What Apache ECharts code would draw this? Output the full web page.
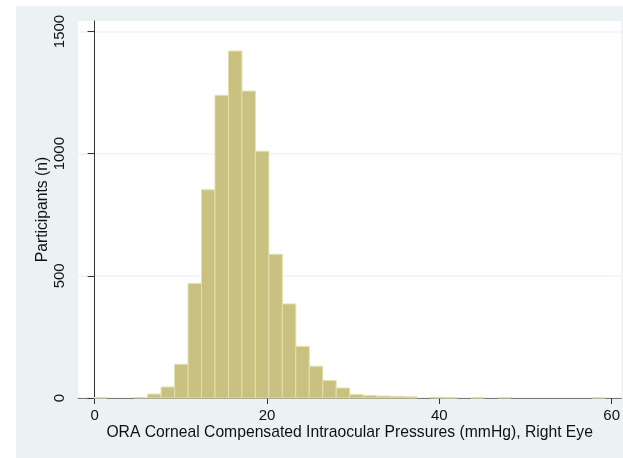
<!DOCTYPE html>
<html>
<head>
<meta charset="utf-8">
<script src="https://cdn.jsdelivr.net/npm/echarts@6/dist/echarts.min.js"></script>
<style>
  html, body { margin: 0; padding: 0; background: #ffffff; }
  #chart { width: 623px; height: 458px; }
</style>
</head>
<body>
<div id="chart"></div>
<script>
// Histogram of corneal compensated IOP, right eye
const binStart = -0.1;          // left edge of first bin (mmHg)
const binWidth = 1.563;         // bin width (mmHg)
const counts = [
  1, 0, 0, 2, 16, 45, 138, 469, 852, 1239,
  1420, 1256, 1010, 588, 385, 211, 130, 71, 41, 14,
  10, 8, 7, 5, 0, 3, 1, 0, 1, 0,
  2, 0, 0, 0, 0, 0, 0, 1
];
const xTicks = [0, 20, 40, 60];
const yTicks = [0, 500, 1000, 1500];
const xTitle = 'ORA Corneal Compensated Intraocular Pressures (mmHg), Right Eye';
const yTitle = 'Participants (n)';

const bins = counts.map((c, i) => [binStart + i * binWidth, binStart + (i + 1) * binWidth, c]);

const font = 'Liberation Sans, Arial, Helvetica, sans-serif';
const chart = echarts.init(document.getElementById('chart'), null, { renderer: 'canvas' });

chart.setOption({
  animation: false,
  backgroundColor: '#ffffff',
  graphic: [{
    type: 'rect',
    z: -10,
    silent: true,
    shape: { x: 16, y: 6, width: 607, height: 452 },
    style: { fill: '#EAF2F3' }
  }],
  grid: {
    left: 78, right: 0, top: 21, bottom: 60,
    show: true, backgroundColor: '#ffffff', borderWidth: 0
  },
  xAxis: {
    type: 'value',
    min: -1.93, max: 61.12,
    name: xTitle,
    nameLocation: 'middle',
    nameGap: 27,
    nameMoveOverlap: false,
    nameTextStyle: { fontFamily: font, fontSize: 15.7, color: '#111' },
    axisLine: { show: true, onZero: false, lineStyle: { color: '#777', width: 1 } },
    axisTick: { show: true, customValues: xTicks, length: 6, lineStyle: { color: '#333' } },
    axisLabel: { customValues: xTicks, fontFamily: font, fontSize: 15, color: '#111', margin: 10,
      formatter: v => String(v) },
    splitLine: { show: false }
  },
  yAxis: {
    type: 'value',
    min: 0, max: 1543,
    name: yTitle,
    nameLocation: 'middle',
    nameGap: 27,
    nameMoveOverlap: false,
    nameTextStyle: { fontFamily: font, fontSize: 15.7, color: '#111' },
    axisLine: { show: true, lineStyle: { color: '#333', width: 1 } },
    axisTick: { show: true, customValues: yTicks, length: 7, lineStyle: { color: '#333' } },
    axisLabel: { customValues: yTicks, rotate: 90, fontFamily: font, fontSize: 15, color: '#111', margin: 11,
      formatter: v => String(v) },
    splitLine: { show: true, lineStyle: { color: '#EDF3F3', width: 1.5 } }
  },
  series: [{
    type: 'custom',
    data: bins,
    encode: { x: [0, 1], y: 2 },
    renderItem: function (params, api) {
      const c = api.value(2);
      if (!c) return null;
      const p0 = api.coord([api.value(0), c]);
      const p1 = api.coord([api.value(1), 0]);
      return {
        type: 'rect',
        shape: { x: p0[0], y: p0[1], width: p1[0] - p0[0], height: p1[1] - p0[1] },
        style: { fill: '#C9C17F', stroke: '#E4DFAE', lineWidth: 1 }
      };
    }
  }]
});
</script>
</body>
</html>
